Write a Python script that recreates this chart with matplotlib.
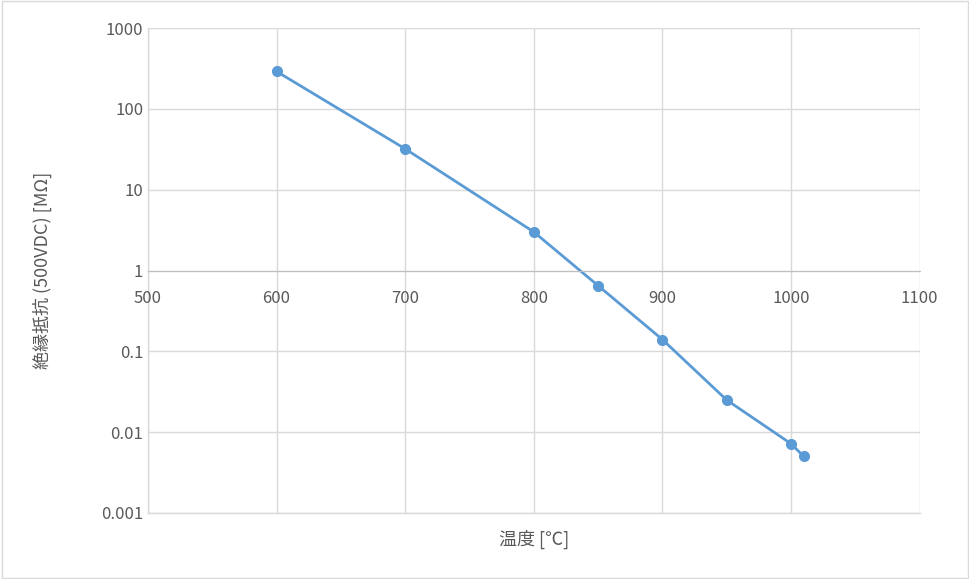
import matplotlib
matplotlib.use("Agg")
import matplotlib.pyplot as plt
from matplotlib.ticker import FixedLocator, FixedFormatter
import numpy as np

plt.rcParams['font.family'] = ['Noto Sans CJK JP', 'DejaVu Sans']

temp = [600, 700, 800, 850, 900, 950, 1000, 1010]
resist = [290, 32, 3.0, 0.65, 0.14, 0.025, 0.0072, 0.005]
yticks = [0.001, 0.01, 0.1, 1, 10, 100, 1000]
ylabels = ["0.001", "0.01", "0.1", "1", "10", "100", "1000"]

fig = plt.figure(figsize=(9.70, 5.79), dpi=100)
ax = fig.add_axes([0.1526, 0.114, 0.7954, 0.8376])
ax.set_yscale('log')
ax.set_xlim(500, 1100)
ax.set_ylim(0.001, 1000)
ax.yaxis.set_major_locator(FixedLocator(yticks))
ax.yaxis.set_major_formatter(FixedFormatter(ylabels))
ax.yaxis.set_minor_locator(FixedLocator([]))
ax.set_xticks(range(500, 1101, 100))
ax.grid(True, color='#d9d9d9', linewidth=1)
ax.set_axisbelow(True)
for s in ['top', 'right', 'left']:
    ax.spines[s].set_visible(False)
ax.spines['bottom'].set_position(('data', 1))
ax.spines['bottom'].set_color('#bfbfbf')
ax.axhline(0.001, color='#d9d9d9', linewidth=1, clip_on=False, zorder=0.5)
ax.axvline(500, color='#d9d9d9', linewidth=1, clip_on=False, zorder=0.5)
ax.tick_params(length=0, labelsize=12, colors='#595959')
ax.tick_params(axis='x', pad=14)

ax.plot(temp, resist, color='#5b9bd5', linewidth=2, marker='o', markersize=7)

ax.set_xlabel('温度 [℃]', fontsize=13, color='#595959', labelpad=0)
ax.xaxis.set_label_coords(0.5, -0.035)
ax.set_ylabel('絶縁抵抗 (500VDC) [MΩ]', fontsize=13, color='#595959', labelpad=14)
ax.yaxis.set_label_coords(-0.125, 0.5)

fig.patches.append(plt.Rectangle((0.002, 0.002), 0.996, 0.996, transform=fig.transFigure,
                                 fill=False, edgecolor='#d9d9d9', linewidth=1))
fig.savefig('out.png', dpi=100)
